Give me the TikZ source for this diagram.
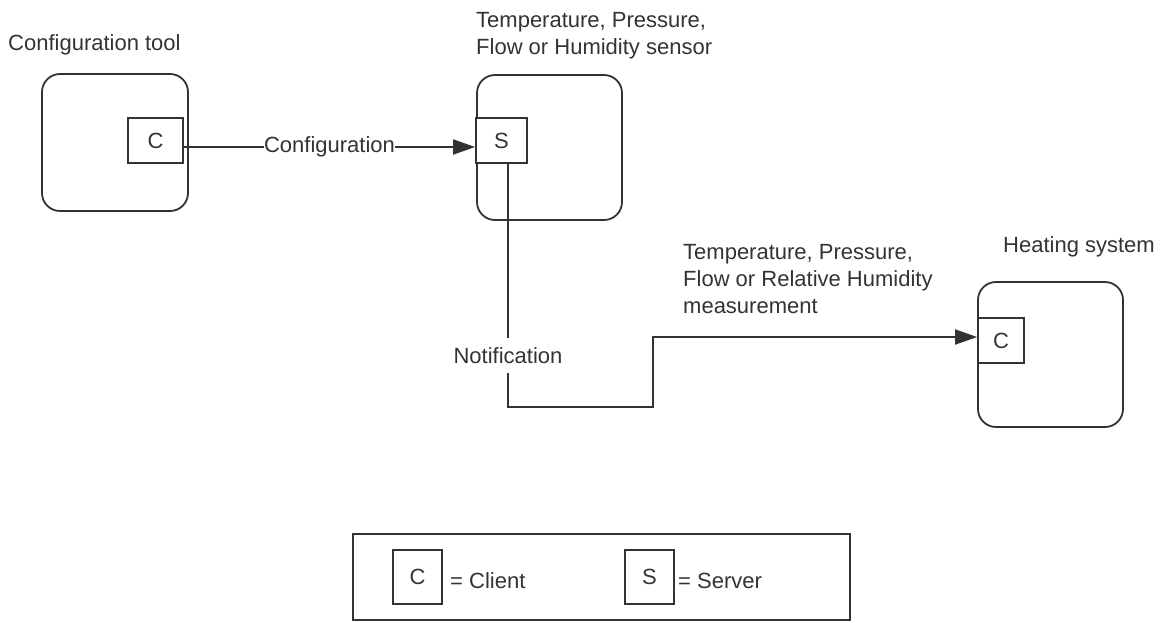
\documentclass[tikz,border=0pt]{standalone}
\usepackage{fontspec}
\setmainfont{Liberation Sans}
\usetikzlibrary{arrows.meta}
\definecolor{ink}{HTML}{333333}
\begin{document}
\begin{tikzpicture}[x=1pt,y=-1pt,
  every node/.style={font=\fontsize{22}{27}\selectfont, text=ink},
  devbox/.style={draw=ink, line width=1.8pt, rounded corners=18pt, inner sep=0pt},
  port/.style={draw=ink, line width=1.8pt, fill=white, inner sep=0pt, minimum height=45pt},
  conn/.style={draw=ink, line width=1.8pt, -{Triangle[length=22pt,width=15pt]}},
  lbl/.style={align=left, inner sep=0pt}
]
\useasboundingbox (0,0) rectangle (1171,622);

% devices
\node[devbox, minimum width=146pt, minimum height=137pt] (tool) at (115,142.5) {};
\node[port, minimum width=55pt] (toolC) at (155.5,140.5) {C};
\node[devbox, minimum width=145pt, minimum height=145pt] (sensor) at (549.5,147.5) {};
\node[port, minimum width=51pt] (sensS) at (501.5,140.5) {S};
\node[devbox, minimum width=145pt, minimum height=145pt] (heat) at (1050.5,354.5) {};
\node[port, minimum width=46pt] (heatC) at (1001,340.5) {C};

% labels
\node[lbl, anchor=base west] (toolLbl) at (8,50) {Configuration tool};
\node[lbl, anchor=north west] (sensLbl) at (476,12.2) {Temperature, Pressure,\\Flow or Humidity sensor};
\node[lbl, anchor=north west] (measLbl) at (683,244.2) {Temperature, Pressure,\\Flow or Relative Humidity\\measurement};
\node[lbl, anchor=base west] (heatLbl) at (1003,252) {Heating system};

% connectors
\draw[conn] ([yshift=-6.5pt]toolC.east) -- node[fill=white, inner xsep=0pt, inner ysep=2pt] (cfgLbl) {Configuration} ([yshift=-6.5pt]sensS.west);

\coordinate (n1) at (508,407);
\coordinate (n2) at (653,407);
\coordinate (n3) at (653,337);
\draw[conn] (sensS.south -| n1) -- node[pos=0.79, fill=white, minimum height=35pt, inner xsep=1pt] (notif) {Notification} (n1) -- (n2) -- (n3) -- (heatC.west |- n3);

% legend
\node[draw=ink, line width=1.8pt, inner sep=0pt, minimum width=497pt, minimum height=86pt] (legend) at (601.5,577) {};
\node[port, minimum width=49pt, minimum height=54pt] (legC) at (417.5,577) {C};
\node[lbl, anchor=base west] (legCtxt) at (450,588) {= Client};
\node[port, minimum width=49pt, minimum height=54pt] (legS) at (649.5,577) {S};
\node[lbl, anchor=base west] (legStxt) at (678,588) {= Server};
\end{tikzpicture}
\end{document}
